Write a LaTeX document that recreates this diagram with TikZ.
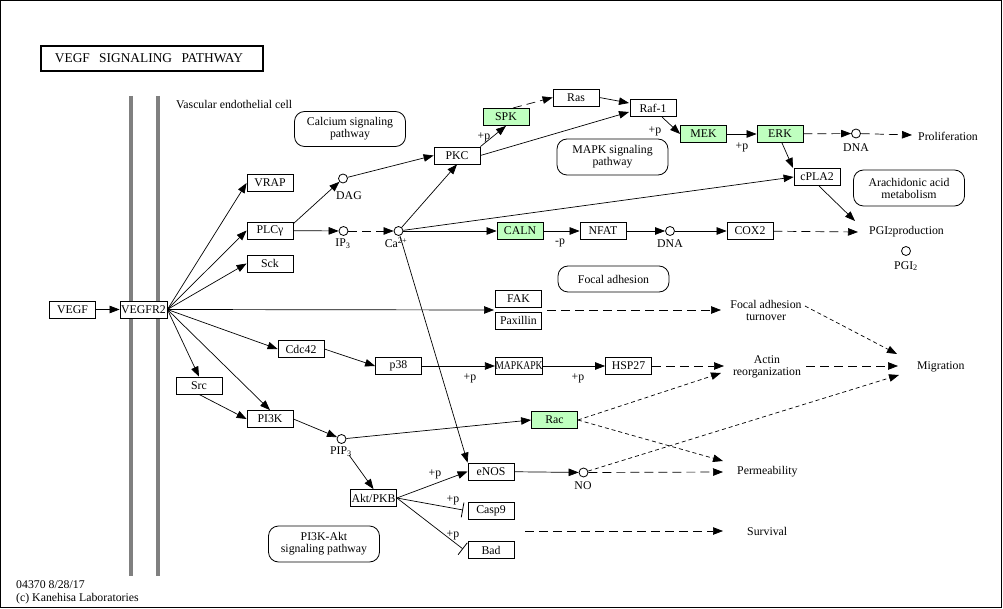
\documentclass[tikz,border=0pt]{standalone}
\usepackage{fontspec}
\setmainfont{Liberation Serif}
\usetikzlibrary{arrows.meta,calc}
\definecolor{kgreen}{HTML}{BFFFBF}
\definecolor{kgray}{HTML}{808080}
\newcommand\kfont{\fontsize{11.8}{12}\selectfont}
\begin{document}
\begin{tikzpicture}[x=1pt,y=-1pt,
  every node/.style={font=\kfont},
  box/.style={draw, line width=0.8pt, minimum width=46pt, minimum height=17pt, inner sep=0pt, fill=white},
  gbox/.style={box, fill=kgreen},
  cmp/.style={circle, draw, line width=0.8pt, minimum size=9pt, inner sep=0pt, fill=white},
  pbox/.style={draw, line width=0.8pt, rounded corners=10pt, align=center, minimum width=111pt, inner sep=0pt},
  txt/.style={inner sep=0pt, align=center},
  conn/.style={line width=0.7pt},
  >={Triangle[length=10pt,width=7.5pt]},
  ldash/.style={conn, dash pattern=on 9pt off 5pt},
  sdash/.style={conn, dash pattern=on 4pt off 3pt},
  inh/.style={conn, -{Bar[width=15pt,line width=0.8pt]}},
]
\useasboundingbox (0,0) rectangle (1003,609);
\draw[line width=1pt] (0.5,0.5) rectangle (1001.5,607.5);

% title
\draw[line width=2pt] (41,46) rectangle (263,71);
\node[txt, font=\fontsize{13.4}{14}\selectfont] (title) at (149,58.5) {VEGF\hspace{6pt} SIGNALING\hspace{6pt} PATHWAY};

% membrane
\draw[kgray, line width=4.5pt] (131,96) -- (131,576);
\draw[kgray, line width=4.5pt] (158,96) -- (158,576);
\node[txt, anchor=west] (cell) at (176,104) {Vascular endothelial cell};

% pathway boxes
\node[pbox, minimum height=35pt] (calc) at (350,129) {Calcium signaling\\pathway};
\node[pbox, minimum height=36pt] (mapk) at (612.5,157) {MAPK signaling\\pathway};
\node[pbox, minimum height=36pt] (arach) at (909,188) {Arachidonic acid\\metabolism};
\node[pbox, minimum height=26pt] (focal) at (613.5,279) {Focal adhesion};
\node[pbox, minimum height=36pt] (pi3kakt) at (324,544) {PI3K-Akt\\signaling pathway};

% gene boxes
\node[box] (VEGF) at (72.5,309.5) {VEGF};
\node[box, minimum width=47pt] (VEGFR2) at (143.5,309.5) {VEGFR2};
\node[box] (VRAP) at (270,183) {VRAP};
\node[box] (PLC) at (270,230.5) {PLCγ};
\node[box] (Sck) at (270,263.5) {Sck};
\node[box] (Cdc42) at (301,349) {Cdc42};
\node[box] (Src) at (199,385.5) {Src};
\node[box] (PI3K) at (270,419) {PI3K};
\node[box] (PKC) at (457,155.5) {PKC};
\node[gbox] (SPK) at (506,117) {SPK};
\node[box] (Ras) at (576,97.5) {Ras};
\node[box] (Raf) at (653,108) {Raf-1};
\node[gbox] (MEK) at (703.5,134) {MEK};
\node[gbox] (ERK) at (780,134) {ERK};
\node[box] (cPLA2) at (817,177) {cPLA2};
\node[gbox] (CALN) at (520,231) {CALN};
\node[box] (NFAT) at (603,231) {NFAT};
\node[box] (COX2) at (750,231) {COX2};
\node[box] (FAK) at (518.5,299) {FAK};
\node[box] (Pax) at (518.5,320.5) {Paxillin};
\node[box] (p38) at (398.5,366) {p38};
\node[box] (MAPKAPK) at (519,366) {\scalebox{0.82}[1]{MAPKAPK}};
\node[box] (HSP27) at (628.5,366) {HSP27};
\node[gbox] (Rac) at (554.5,420) {Rac};
\node[box] (eNOS) at (491,471.5) {eNOS};
\node[box] (Akt) at (373.5,498) {Akt/PKB};
\node[box] (Casp9) at (491,511) {Casp9};
\node[box] (Bad) at (491,550) {Bad};

% compounds
\node[cmp] (DAG) at (343,178.5) {};
\node[txt] (DAGl) at (349,196) {DAG};
\node[cmp] (IP3) at (343.5,231) {};
\node[txt] (IP3l) at (343,244) {IP\textsubscript{3}};
\node[cmp] (Ca) at (398.5,231) {};
\node[txt] (Cal) at (396,243) {Ca\textsuperscript{2+}};
\node[cmp] (DNAb) at (670,231) {};
\node[txt] (DNAbl) at (670,244) {DNA};
\node[cmp] (DNAa) at (856,133.5) {};
\node[txt] (DNAal) at (856,148) {DNA};
\node[cmp] (PGI) at (906,251) {};
\node[txt] (PGIl) at (906,266) {PGI\textsubscript{2}};
\node[cmp] (PIP3) at (341.5,439) {};
\node[txt] (PIP3l) at (341,452) {PIP\textsubscript{3}};
\node[cmp] (NO) at (583.5,472.5) {};
\node[txt] (NOl) at (583,486) {NO};

% outcome labels
\node[txt, anchor=west] (Prolif) at (918,136) {Proliferation};
\node[txt, anchor=west] (PGIp) at (869,232) {PGI{\fontsize{9}{9}\selectfont 2}production};
\node[txt] (FAT) at (766,310.5) {Focal adhesion\\turnover};
\node[txt] (Actin) at (767,367) {Actin\\reorganization};
\node[txt, anchor=west] (Migr) at (917,367) {Migration};
\node[txt, anchor=west] (Perm) at (737,472) {Permeability};
\node[txt, anchor=west] (Surv) at (747,531) {Survival};

% footer
\node[txt, anchor=west] (f1) at (16,585) {04370 8/28/17};
\node[txt, anchor=west] (f2) at (16,599) {(c) Kanehisa Laboratories};

% phosphorylation labels
\node[txt] (p1) at (484,137) {+p};
\node[txt] (p2) at (655,131) {+p};
\node[txt] (p3) at (742,147) {+p};
\node[txt] (p4) at (560,243) {-p};
\node[txt] (p5) at (470,378) {+p};
\node[txt] (p6) at (578,378) {+p};
\node[txt] (p7) at (435,474) {+p};
\node[txt] (p8) at (453,500) {+p};
\node[txt] (p9) at (453,535) {+p};

% helper coordinates
\coordinate (fakin) at (494,310);
\coordinate (fakout) at (547,310);
\coordinate (rafin) at (629,112);
\coordinate (rafin2) at (629,103);
\coordinate (spkout) at (513,108);
\coordinate (rafout) at (662,117);
\coordinate (erkout) at (782,143);
\coordinate (cplain) at (793,168);
\coordinate (cplaout) at (819,186);
\coordinate (pgiin) at (855,221);
\coordinate (pgiin2) at (858,232);
\coordinate (prolin) at (912,135);
\coordinate (fatin) at (721,310);
\coordinate (fatout) at (805,306);
\coordinate (migin1) at (897,354);
\coordinate (migin2) at (898,366);
\coordinate (migin3) at (899,375);
\coordinate (actout) at (806,366);
\coordinate (actin1) at (724,366);
\coordinate (actin2) at (721,373);
\coordinate (permin1) at (723,461);
\coordinate (permin2) at (723,472);
\coordinate (survs) at (525,531);
\coordinate (survin) at (723,531);
\coordinate (pipout) at (349,455);
\coordinate (casp) at (463,510);
\coordinate (badi) at (463,549);
\coordinate (plcout) at (293,224);

% connectors
\draw[conn,->] (VEGF) -- (VEGFR2);
\draw[conn,->] (VEGFR2.east) -- (VRAP.west);
\draw[conn,->] (VEGFR2.east) -- (PLC.west);
\draw[conn,->] (VEGFR2.east) -- (Sck.west);
\draw[conn,->] (VEGFR2.east) -- (fakin);
\draw[conn,->] (VEGFR2.east) -- (Cdc42.west);
\draw[conn,->] (VEGFR2.east) -- (Src.north);
\draw[conn,->] (VEGFR2.east) -- (PI3K.north);
\draw[conn,->] (Src.south) -- (PI3K.west);
\draw[conn,->] (PI3K.east) -- (PIP3);
\draw[conn,->] (plcout) -- (DAG);
\draw[conn,->] (PLC) -- (IP3);
\draw[ldash,->] (IP3) -- (Ca);
\draw[conn,->] (DAG) -- (PKC.west);
\draw[conn,->] (Ca) -- (PKC.south);
\draw[conn,->] (PKC.north east) -- (SPK.south);
\draw[conn,->] (PKC.east) -- (rafin);
\draw[ldash,->] (spkout) -- (Ras.west);
\draw[conn,->] (Ras.east) -- (rafin2);
\draw[conn,->] (rafout) -- (MEK.west);
\draw[conn,->] (MEK) -- (ERK);
\draw[ldash,->] (ERK) -- (DNAa);
\draw[ldash,->] (DNAa) -- (prolin);
\draw[conn,->] (erkout) -- (cplain);
\draw[conn,->] (Ca) -- (cPLA2.west);
\draw[conn,->] (Ca) -- (CALN);
\draw[conn,->] (Ca) -- (eNOS.north west);
\draw[conn,->] (CALN) -- (NFAT);
\draw[conn,->] (NFAT) -- (DNAb);
\draw[conn,->] (DNAb) -- (COX2);
\draw[ldash,->] (COX2) -- (pgiin2);
\draw[conn,->] (cplaout) -- (pgiin);
\draw[ldash,->] (fakout) -- (fatin);
\draw[sdash,->] (fatout) -- (migin1);
\draw[ldash,->] (actout) -- (migin2);
\draw[sdash,->] (NO) -- (migin3);
\draw[conn,->] (Cdc42.east) -- (p38.west);
\draw[conn,->] (p38) -- (MAPKAPK);
\draw[conn,->] (MAPKAPK) -- (HSP27);
\draw[ldash,->] (HSP27) -- (actin1);
\draw[sdash,->] (Rac.east) -- (actin2);
\draw[sdash,->] (Rac.east) -- (permin1);
\draw[conn,->] (PIP3) -- (Rac.west);
\draw[conn,->] (pipout) -- (Akt.north);
\draw[conn,->] (Akt.east) -- (eNOS.west);
\draw[inh] (Akt.east) -- (casp);
\draw[inh] (Akt.east) -- (badi);
\draw[conn,->] (eNOS) -- (NO);
\draw[ldash,->] (NO) -- (permin2);
\draw[ldash,->] (survs) -- (survin);
\end{tikzpicture}
\end{document}
